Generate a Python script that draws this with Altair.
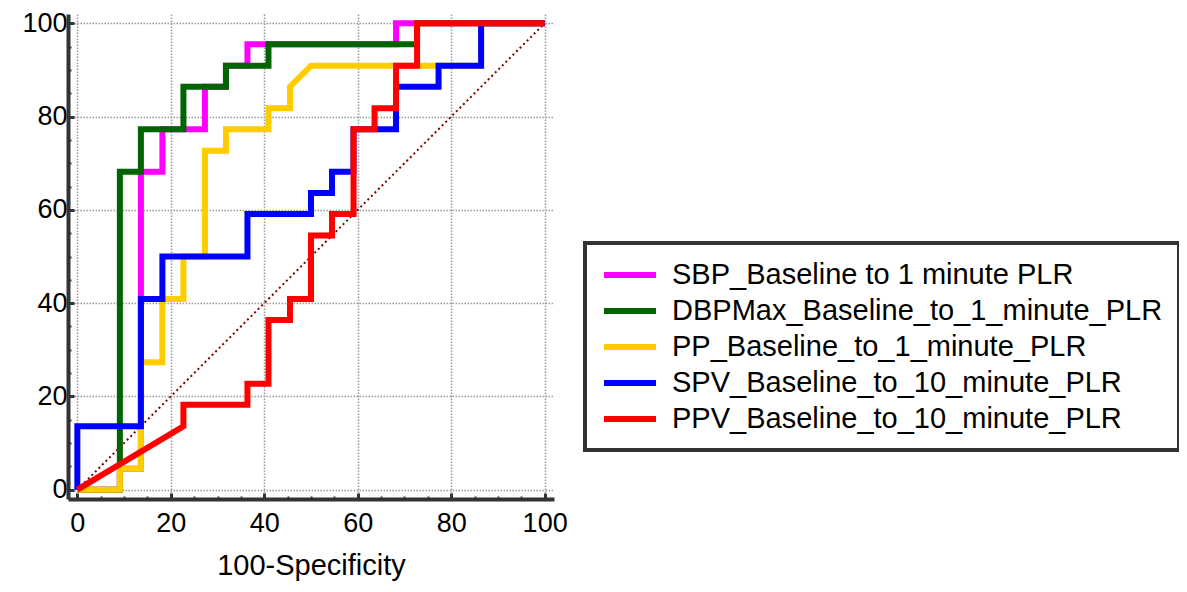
import altair as alt
import pandas as pd

names = ["SBP_Baseline to 1 minute PLR", "DBPMax_Baseline_to_1_minute_PLR",
         "PP_Baseline_to_1_minute_PLR", "SPV_Baseline_to_10_minute_PLR",
         "PPV_Baseline_to_10_minute_PLR"]
colors = ["#FF00FF", "#006400", "#FFCC00", "#0000FF", "#FF0000"]

sbp_x = [0, 9.1, 9.1, 13.6, 13.6, 18.2, 18.2, 27.3, 27.3, 31.8, 31.8, 36.4, 36.4, 68.2, 68.2, 100]
sbp_y = [0, 0, 4.5, 4.5, 68.2, 68.2, 77.3, 77.3, 86.4, 86.4, 90.9, 90.9, 95.5, 95.5, 100, 100]

dbp_x = [0, 9.1, 9.1, 13.6, 13.6, 22.7, 22.7, 31.8, 31.8, 40.9, 40.9, 72.7, 72.7, 100]
dbp_y = [0, 0, 68.2, 68.2, 77.3, 77.3, 86.4, 86.4, 90.9, 90.9, 95.5, 95.5, 100, 100]

pp_x = [0, 9.1, 9.1, 13.6, 13.6, 18.2, 18.2, 22.7, 22.7, 27.3, 27.3, 31.8, 31.8, 40.9, 40.9, 45.5, 45.5, 50.0, 86.4, 86.4, 100]
pp_y = [0, 0, 4.5, 4.5, 27.3, 27.3, 40.9, 40.9, 50.0, 50.0, 72.7, 72.7, 77.3, 77.3, 81.8, 81.8, 86.4, 90.9, 90.9, 100, 100]

spv_x = [0, 0, 13.6, 13.6, 18.2, 18.2, 36.4, 36.4, 50.0, 50.0, 54.5, 54.5, 59.1, 59.1, 68.2, 68.2, 77.3, 77.3, 86.4, 86.4, 100]
spv_y = [0, 13.6, 13.6, 40.9, 40.9, 50.0, 50.0, 59.1, 59.1, 63.6, 63.6, 68.2, 68.2, 77.3, 77.3, 86.4, 86.4, 90.9, 90.9, 100, 100]

ppv_x = [0, 22.7, 22.7, 36.4, 36.4, 40.9, 40.9, 45.5, 45.5, 50.0, 50.0, 54.5, 54.5, 59.1, 59.1, 63.6, 63.6, 68.2, 68.2, 72.7, 72.7, 100]
ppv_y = [0, 13.6, 18.2, 18.2, 22.7, 22.7, 36.4, 36.4, 40.9, 40.9, 54.5, 54.5, 59.1, 59.1, 77.3, 77.3, 81.8, 81.8, 90.9, 90.9, 100, 100]

diag_x = [0, 100]
diag_y = [0, 100]

tick_values = list(range(0, 101, 5))

series = [(sbp_x, sbp_y), (dbp_x, dbp_y), (pp_x, pp_y), (spv_x, spv_y), (ppv_x, ppv_y)]
rows = []
for name, (xs, ys) in zip(names, series):
    for i, (xv, yv) in enumerate(zip(xs, ys)):
        rows.append({"series": name, "idx": i, "fpr": xv, "tpr": yv})
df = pd.DataFrame(rows)
diag_df = pd.DataFrame({"fpr": diag_x, "tpr": diag_y})

FONT = "Liberation Sans"

def make_axis(title, label_pad):
    kw = dict(
        values=tick_values,
        labelExpr="datum.value % 20 === 0 ? datum.label : ''",
        grid=True,
        gridColor="#999999",
        gridDash=[1.5, 1.5],
        gridWidth=1.5,
        gridOpacity=alt.ExprRef("datum.value % 20 === 0 ? 1 : 0"),
        domainColor="#333333",
        domainWidth=4,
        tickColor="#333333",
        tickWidth=alt.ExprRef("datum.value % 20 === 0 ? 3 : 2"),
        tickSize=alt.ExprRef("datum.value % 20 === 0 ? -6 : -3"),
        labelFontSize=27,
        labelFont=FONT,
        labelColor="#000000",
        labelPadding=label_pad,
        labelFlush=False,
        labelOverlap=False,
    )
    if title:
        kw.update(title=title, titleFontSize=29, titleFont=FONT,
                  titleFontWeight="normal", titleColor="#000000", titlePadding=12)
    else:
        kw.update(title=None)
    return alt.Axis(**kw)

x_enc = alt.X("fpr:Q", scale=alt.Scale(domain=[-2, 102], nice=False, zero=False),
              axis=make_axis("100-Specificity", 17))
y_enc = alt.Y("tpr:Q", scale=alt.Scale(domain=[-2, 102], nice=False, zero=False),
              axis=make_axis(None, 7))

color_enc = alt.Color(
    "series:N",
    scale=alt.Scale(domain=names, range=colors),
    legend=alt.Legend(
        orient="none", legendX=517, legendY=229, title=None,
        symbolType="M-1,0L3,0", symbolStrokeWidth=6, symbolSize=676,
        labelFontSize=29, labelFont=FONT, labelColor="#000000",
        labelLimit=1000, labelOffset=39, rowPadding=5,
        strokeColor="#333333", padding=16, fillColor="#FFFFFF",
    ),
)

diag = alt.Chart(diag_df).mark_line(
    color="#800000", strokeWidth=2, strokeDash=[2, 3]
).encode(x=x_enc, y=y_enc)

layers = [diag]
for name in names:
    layers.append(
        alt.Chart(df).transform_filter(alt.datum.series == name)
        .mark_line(strokeWidth=6)
        .encode(x=x_enc, y=y_enc, order="idx:Q", color=color_enc)
    )

chart = alt.layer(*layers).properties(
    width=486, height=485,
    autosize=alt.AutoSizeParams(type="none"),
    padding={"left": 60, "top": 6, "right": 625, "bottom": 85},
).configure_view(stroke=None).configure_legend(strokeWidth=4)

chart.save("out.html", embed_options={"renderer": "svg", "actions": False})
